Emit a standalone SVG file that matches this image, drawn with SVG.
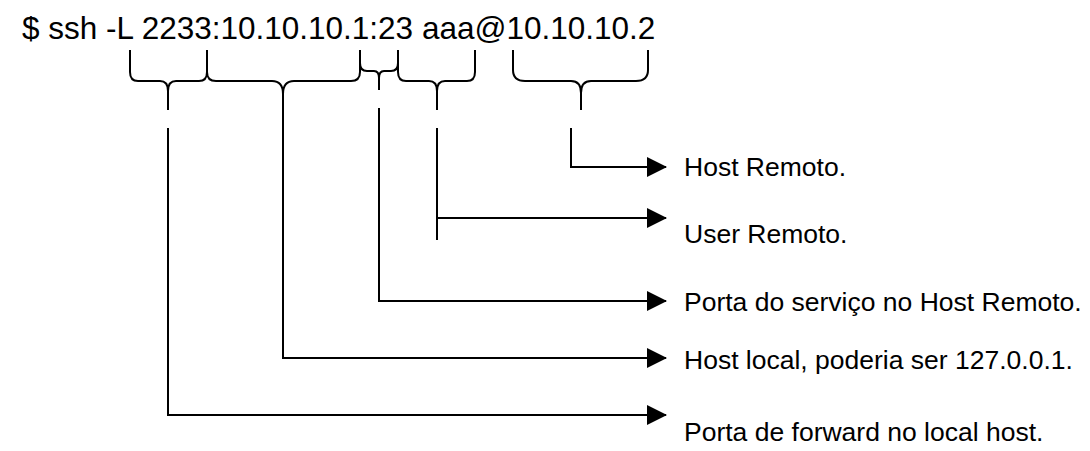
<svg xmlns="http://www.w3.org/2000/svg" width="1090" height="451" viewBox="0 0 1090 451">
  <style>
    .cmd { font-family: "Liberation Sans", Arial, sans-serif; font-size: 31.5px; fill: #000; }
    .lbl { font-family: "Liberation Sans", Arial, sans-serif; font-size: 26.5px; fill: #000; }
    .brace { fill: none; stroke: #000; stroke-width: 2; stroke-linejoin: round; }
    .wire { fill: none; stroke: #000; stroke-width: 2; }
  </style>
  <defs>
    <marker id="arrow" viewBox="0 0 20 20" refX="19" refY="10" markerWidth="20" markerHeight="20" markerUnits="userSpaceOnUse" orient="auto">
      <path d="M0,0 L20,10 L0,20 Z" fill="#000"/>
    </marker>
  </defs>

  <rect width="1090" height="451" fill="#fff"/>

  <!-- command line -->
  <g id="command">
    <text class="cmd" x="22" y="39">$ ssh -L 2233:10.10.10.1:23 aaa@10.10.10.2</text>
  </g>

  <!-- braces under each part of the command -->
  <g id="braces">
    <path id="brace-porta-local" class="brace" d="M130,50 L130,72 Q130,81 138,81 L160,81 Q168,81 168,91 L168,110 M168,91 Q168,81 176,81 L199,81 Q207,81 207,72 L207,50"/>
    <path id="brace-host-local" class="brace" d="M207,50 L207,72 Q207,81 216,81 L272,81 Q283,81 283,94 L283,110 M283,94 Q283,81 294,81 L351,81 Q360,81 360,72 L360,50"/>
    <path id="brace-porta-remota" class="brace" d="M360,50 L360,63 Q360,71 367,71 L374,71 Q379,71 379,78 L379,90 M379,78 Q379,71 384,71 L391,71 Q398,71 398,63 L398,50"/>
    <path id="brace-user" class="brace" d="M398,50 L398,72 Q398,81 406,81 L429,81 Q437,81 437,91 L437,110 M437,91 Q437,81 445,81 L467,81 Q475,81 475,72 L475,50"/>
    <path id="brace-host-remoto" class="brace" d="M513,50 L513,70 Q513,81 525,81 L571,81 Q581,81 581,93 L581,110 M581,93 Q581,81 591,81 L636,81 Q648,81 648,70 L648,50"/>
  </g>

  <!-- connectors from the braces to the labels -->
  <g id="connectors">
    <polyline class="wire" points="571,128 571,167 666,167" marker-end="url(#arrow)"/>
    <polyline class="wire" points="437,240 437,128"/>
    <polyline class="wire" points="437,218 666,218" marker-end="url(#arrow)"/>
    <polyline class="wire" points="379,108 379,301 666,301" marker-end="url(#arrow)"/>
    <polyline class="wire" points="283,110 283,358 666,358" marker-end="url(#arrow)"/>
    <polyline class="wire" points="168,128 168,415 666,415" marker-end="url(#arrow)"/>
  </g>

  <!-- labels -->
  <g id="label-host-remoto"><text class="lbl" x="684" y="176">Host Remoto.</text></g>
  <g id="label-user-remoto"><text class="lbl" x="684" y="243">User Remoto.</text></g>
  <g id="label-porta-servico"><text class="lbl" x="684" y="311">Porta do serviço no Host Remoto.</text></g>
  <g id="label-host-local"><text class="lbl" x="684" y="369">Host local, poderia ser 127.0.0.1.</text></g>
  <g id="label-porta-forward"><text class="lbl" x="684" y="441">Porta de forward no local host.</text></g>
</svg>
